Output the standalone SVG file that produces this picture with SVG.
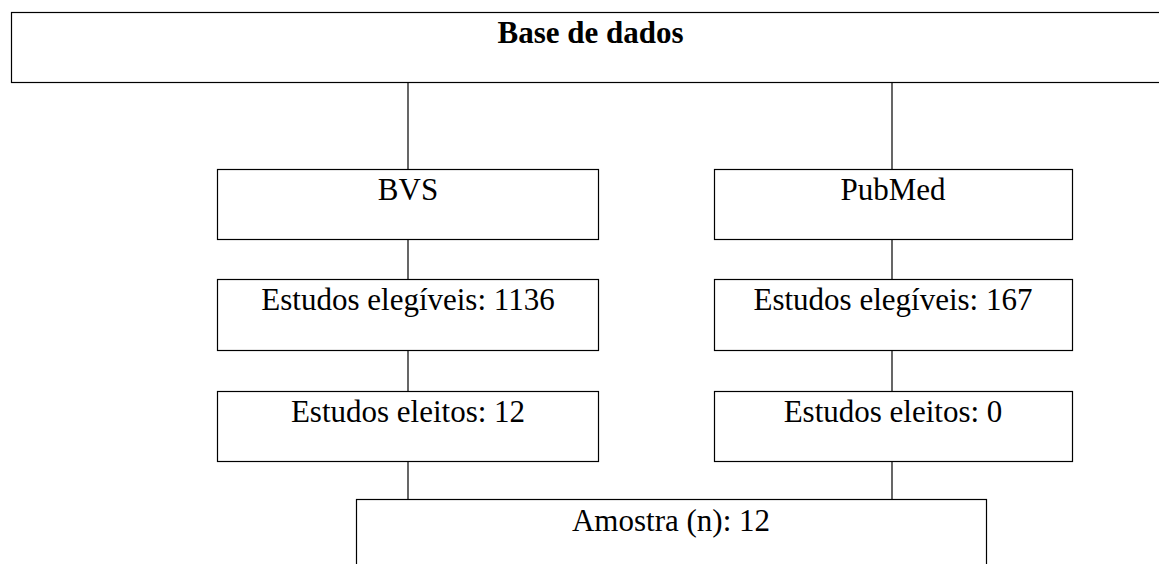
<svg xmlns="http://www.w3.org/2000/svg" width="1159" height="564" viewBox="0 0 1159 564">
<style>
.box{fill:#fff;stroke:#000;stroke-width:1.2}
.t{font-family:"Liberation Serif","Times New Roman",serif;font-size:31px;fill:#000;text-anchor:middle}
.b{font-weight:bold}
.c{stroke:#000;stroke-width:1.2;fill:none}
</style>
<rect width="1159" height="564" fill="#fff"/>
<g id="connectors">
<line class="c" x1="408" y1="82" x2="408" y2="169"/>
<line class="c" x1="892" y1="82" x2="892" y2="169"/>
<line class="c" x1="408" y1="239" x2="408" y2="279"/>
<line class="c" x1="892" y1="239" x2="892" y2="279"/>
<line class="c" x1="408" y1="350" x2="408" y2="391"/>
<line class="c" x1="892" y1="350" x2="892" y2="391"/>
<line class="c" x1="408" y1="461" x2="408" y2="499"/>
<line class="c" x1="892" y1="461" x2="892" y2="499"/>
</g>
<g id="base">
<rect class="box" x="11.5" y="12.5" width="1160" height="70"/>
<text class="t b" x="590.5" y="43">Base de dados</text>
</g>
<g id="bvs">
<rect class="box" x="217.5" y="169.5" width="381" height="70"/>
<text class="t" x="408" y="200">BVS</text>
</g>
<g id="pubmed">
<rect class="box" x="714.5" y="169.5" width="358" height="70"/>
<text class="t" x="893" y="200">PubMed</text>
</g>
<g id="bvs-elegiveis">
<rect class="box" x="217.5" y="279.5" width="381" height="71"/>
<text class="t" x="408" y="310">Estudos elegíveis: 1136</text>
</g>
<g id="pubmed-elegiveis">
<rect class="box" x="714.5" y="279.5" width="358" height="71"/>
<text class="t" x="893" y="310">Estudos elegíveis: 167</text>
</g>
<g id="bvs-eleitos">
<rect class="box" x="217.5" y="391.5" width="381" height="70"/>
<text class="t" x="408" y="422">Estudos eleitos: 12</text>
</g>
<g id="pubmed-eleitos">
<rect class="box" x="714.5" y="391.5" width="358" height="70"/>
<text class="t" x="893" y="422">Estudos eleitos: 0</text>
</g>
<g id="amostra">
<rect class="box" x="356.5" y="499.5" width="630" height="80"/>
<text class="t" x="671" y="531">Amostra (n): 12</text>
</g>
</svg>
